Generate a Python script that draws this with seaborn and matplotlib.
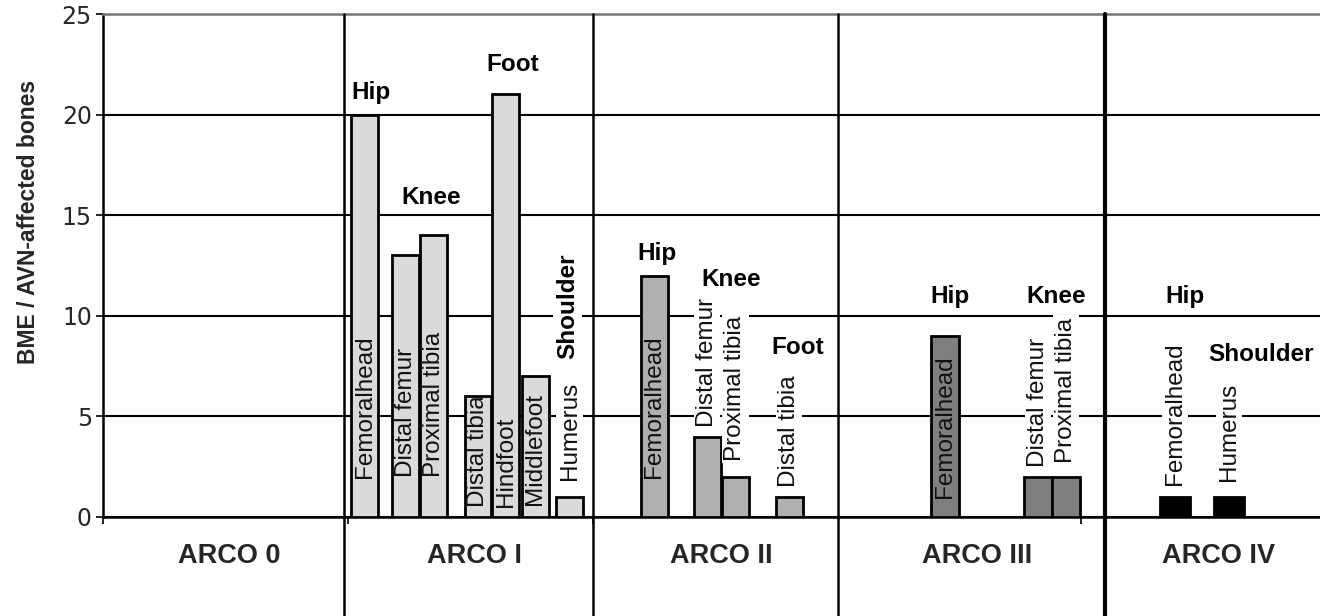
import numpy as np
import pandas as pd
import matplotlib
matplotlib.use("Agg")
import matplotlib.pyplot as plt
import seaborn as sns

# ---- data ----
stages = ["ARCO 0", "ARCO I", "ARCO II", "ARCO III", "ARCO IV"]

arco1_bones = ["Femoralhead", "Distal femur", "Proximal tibia", "Distal tibia",
               "Hindfoot", "Middlefoot", "Humerus"]
arco1_values = [20, 13, 14, 6, 21, 7, 1]
arco1_regions = ["Hip", "Knee", "Foot", "Shoulder"]

arco2_bones = ["Femoralhead", "Distal femur", "Proximal tibia", "Distal tibia"]
arco2_values = [12, 4, 2, 1]
arco2_regions = ["Hip", "Knee", "Foot"]

arco3_bones = ["Femoralhead", "Distal femur", "Proximal tibia"]
arco3_values = [9, 2, 2]
arco3_regions = ["Hip", "Knee"]

arco4_bones = ["Femoralhead", "Humerus"]
arco4_values = [1, 1]
arco4_regions = ["Hip", "Shoulder"]

y_ticks = [0, 5, 10, 15, 20, 25]
y_label = "BME / AVN-affected bones"

# ---- layout (x in "slot" units, roughly one bar per slot) ----
stage_edges = [0, 8.46, 17.19, 25.79, 35.16, 42.7]
x_max = 42.7
bar_colors = {"ARCO I": "#dadada", "ARCO II": "#b0b0b0",
              "ARCO III": "#7f7f7f", "ARCO IV": "#000000"}
bar_pos = {
    "ARCO I": [9.18, 10.62, 11.60, 13.15, 14.13, 15.17, 16.37],
    "ARCO II": [19.34, 21.20, 22.19, 24.08],
    "ARCO III": [29.53, 32.81, 33.79],
    "ARCO IV": [37.61, 39.51],
}
bar_w = {"ARCO I": 0.93, "ARCO II": 0.96, "ARCO III": 0.98, "ARCO IV": 1.05}
# where each rotated bone label begins (y value)
bone_label_y = {
    "ARCO I": [1.95, 2.0, 2.0, 0.5, 0.5, 0.6, 1.85],
    "ARCO II": [1.95, 4.45, 2.8, 1.5],
    "ARCO III": [0.95, 2.5, 2.7],
    "ARCO IV": [1.6, 1.8],
}
# region label anchors (x, y, rotation, ha)
region_xy = {
    "ARCO I": [(9.40, 21.1, 0, "center"), (11.51, 15.9, 0, "center"),
               (14.39, 22.5, 0, "center"), (16.30, 10.45, 90, "center")],
    "ARCO II": [(19.44, 13.1, 0, "center"), (22.04, 11.8, 0, "center"),
                (24.39, 8.4, 0, "center")],
    "ARCO III": [(29.72, 10.95, 0, "center"), (33.44, 10.95, 0, "center")],
    "ARCO IV": [(37.96, 10.95, 0, "center"), (38.77, 8.06, 0, "left")],
}

groups = {
    "ARCO I": (arco1_bones, arco1_values, arco1_regions),
    "ARCO II": (arco2_bones, arco2_values, arco2_regions),
    "ARCO III": (arco3_bones, arco3_values, arco3_regions),
    "ARCO IV": (arco4_bones, arco4_values, arco4_regions),
}

sns.set_theme(style="white")
plt.rcParams["font.family"] = ["Liberation Sans", "DejaVu Sans"]

fig = plt.figure(figsize=(13.2, 6.16), dpi=100)
ax = fig.add_axes([103 / 1320, 99 / 616, 1217 / 1320, 503 / 616])

for stage, (bones, values, regions) in groups.items():
    df = pd.DataFrame({"x": bar_pos[stage], "y": values, "bone": bones})
    gap = np.min(np.diff(sorted(df["x"]))) if len(df) > 1 else 1
    sns.barplot(data=df, x="x", y="y", native_scale=True, errorbar=None,
                width=bar_w[stage] / gap, color=bar_colors[stage],
                saturation=1, edgecolor="black", linewidth=2.0, ax=ax, zorder=3)

    # rotated bone names
    for xb, val, name, ly in zip(df["x"], values, bones, bone_label_y[stage]):
        outside = ly >= val
        ax.text(xb, ly, name, rotation=90, ha="center", va="bottom",
                fontsize=17.5, color="#111111", zorder=5,
                bbox=dict(facecolor="white", edgecolor="none", pad=1.5) if outside else None)

    # bold region names
    for reg, (rx, ry, rot, ha) in zip(regions, region_xy[stage]):
        ax.text(rx, ry, reg, rotation=rot, ha=ha, va="center", fontsize=17.5,
                fontweight="bold", color="black", zorder=5,
                bbox=dict(facecolor="white", edgecolor="none", pad=2) if rot else None)

# stage labels under the axis
for i, st in enumerate(stages):
    mid = (stage_edges[i] + stage_edges[i + 1]) / 2 + 0.2
    ax.text(mid, -0.078, st, transform=ax.get_xaxis_transform(),
            ha="center", va="center", fontsize=19.5, fontweight="bold")

# stage separators, running down into the label band
for k, xe in enumerate(stage_edges[1:-1]):
    ax.axvline(xe, ymin=-0.197, ymax=1, color="black",
               lw=3.0 if k == 3 else 1.8, clip_on=False, zorder=4)

ax.set_xlim(0, x_max)
ax.set_ylim(0, 25)
ax.set_yticks(y_ticks)
ax.set_yticklabels([str(t) for t in y_ticks], fontsize=17, family="DejaVu Sans")
ax.set_xticks([0, 8.6, stage_edges[2], 34.3])
ax.set_xticklabels([])
ax.tick_params(axis="both", which="major", direction="out", length=5,
               width=1.2, color="black", pad=3, left=True, bottom=True)
ax.set_xlabel("")
ax.set_ylabel(y_label, fontsize=16.5, fontweight="bold")
ax.yaxis.set_label_coords(-0.052, 0.586)

ax.yaxis.grid(True, color="black", lw=1.5, zorder=0)
ax.xaxis.grid(False)
ax.set_axisbelow(True)
for side in ["left", "bottom"]:
    ax.spines[side].set_color("black")
    ax.spines[side].set_linewidth(1.8)
ax.spines["right"].set_visible(False)
ax.spines["top"].set_color("#777777")
ax.spines["top"].set_linewidth(1.8)

fig.savefig("out.png", dpi=100)
